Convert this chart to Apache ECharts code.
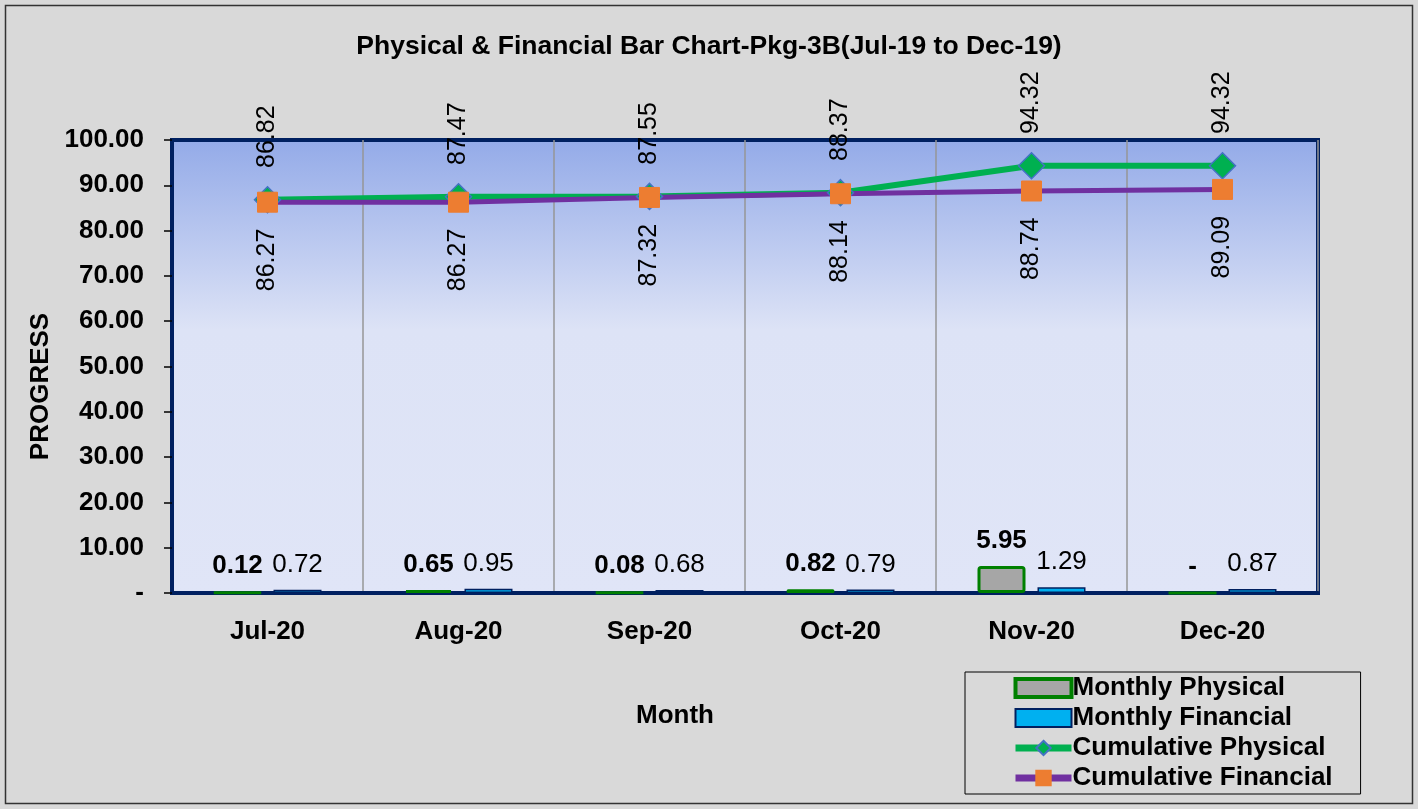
<!DOCTYPE html>
<html>
<head>
<meta charset="utf-8">
<script src="https://cdn.jsdelivr.net/npm/echarts@6/dist/echarts.min.js"></script>
<style>
  html, body { margin: 0; padding: 0; background: #d9d9d9; }
  #main { width: 1418px; height: 809px; }
</style>
</head>
<body>
<div id="main"></div>
<script>
  // chart data
  var months = ['Jul-20', 'Aug-20', 'Sep-20', 'Oct-20', 'Nov-20', 'Dec-20'];
  var monthlyPhysical = [0.12, 0.65, 0.08, 0.82, 5.95, 0];
  var monthlyFinancial = [0.72, 0.95, 0.68, 0.79, 1.29, 0.87];
  var cumulativePhysical = [86.82, 87.47, 87.55, 88.37, 94.32, 94.32];
  var cumulativeFinancial = [86.27, 86.27, 87.32, 88.14, 88.74, 89.09];

  var font = 'Liberation Sans, Arial, sans-serif';
  var fmt = function (v) {
    return v === 0 ? '-' : v.toFixed(2);
  };

  var chart = echarts.init(document.getElementById('main'));
  var option = {
    backgroundColor: '#d9d9d9',
    animation: false,
    textStyle: { fontFamily: font },
    title: {
      text: 'Physical & Financial Bar Chart-Pkg-3B(Jul-19 to Dec-19)',
      left: 'center',
      top: 28,
      textStyle: { fontFamily: font, fontSize: 26.5, fontWeight: 'bold', color: '#000' }
    },
    graphic: [{
      type: 'rect',
      silent: true,
      shape: { x: 5.5, y: 5.5, width: 1407, height: 798 },
      style: { fill: 'none', stroke: '#333', lineWidth: 1.5 }
    }],
    legend: {
      orient: 'vertical',
      left: 965,
      top: 672,
      padding: [3, 28, 3, 47],
      itemGap: 4,
      itemWidth: 56,
      itemHeight: 18,
      borderColor: '#000',
      borderWidth: 1,
      backgroundColor: '#d9d9d9',
      lineStyle: { width: 7 },
      textStyle: { fontFamily: font, fontSize: 26, fontWeight: 'bold', color: '#000', padding: [0, 0, 0, -4] },
      data: [
        { name: 'Monthly Physical', icon: 'rect', itemStyle: { borderWidth: 4 } },
        { name: 'Monthly Financial', icon: 'rect', itemStyle: { borderWidth: 2 } },
        { name: 'Cumulative Physical' },
        { name: 'Cumulative Financial' }
      ]
    },
    grid: {
      left: 172,
      right: 100,
      top: 140,
      bottom: 216,
      show: true,
      borderColor: '#002060',
      borderWidth: 4,
      backgroundColor: new echarts.graphic.LinearGradient(0, 0, 0, 1, [
        { offset: 0, color: '#93aae8' },
        { offset: 0.42, color: '#dde3f6' },
        { offset: 1, color: '#e0e5f7' }
      ])
    },
    xAxis: [
      {
        type: 'category',
        data: months,
        name: 'Month',
        nameLocation: 'middle',
        nameGap: 110,
        nameTextStyle: { fontFamily: font, fontSize: 26, fontWeight: 'bold', color: '#000', padding: [0, 140, 0, 0] },
        axisLine: { lineStyle: { color: '#002060', width: 4 } },
        axisTick: { length: 9, lineStyle: { color: '#000', width: 1.5 } },
        axisLabel: { margin: 26, fontFamily: font, fontSize: 26, fontWeight: 'bold', color: '#000' },
        splitLine: { show: true, lineStyle: { color: '#969696', width: 1.5 } }
      },
      {
        // short ticks at the middle of each month
        type: 'category',
        data: months,
        position: 'bottom',
        axisLine: { show: false },
        axisTick: { alignWithLabel: true, length: 6, lineStyle: { color: '#000', width: 1.5 } },
        axisLabel: { show: false },
        splitLine: { show: false }
      }
    ],
    yAxis: {
      type: 'value',
      min: 0,
      max: 100,
      interval: 10,
      name: 'PROGRESS',
      nameLocation: 'middle',
      nameGap: 118,
      nameTextStyle: { fontFamily: font, fontSize: 26, fontWeight: 'bold', color: '#000', padding: [0, 40, 0, 0] },
      axisLine: { show: true, lineStyle: { color: '#002060', width: 4 } },
      axisTick: { show: true, length: 8, lineStyle: { color: '#000', width: 1.5 } },
      axisLabel: {
        margin: 28,
        fontFamily: font,
        fontSize: 26,
        fontWeight: 'bold',
        color: '#000',
        formatter: fmt
      },
      splitLine: { show: false }
    },
    series: [
      {
        name: 'Monthly Physical',
        type: 'bar',
        barWidth: 48,
        barGap: '25%',
        data: monthlyPhysical,
        itemStyle: { color: '#a6a6a6', borderColor: '#008000', borderWidth: 3, borderRadius: 2 },
        label: {
          show: true,
          position: 'top',
          distance: 12,
          fontFamily: font,
          fontSize: 26,
          fontWeight: 'bold',
          color: '#000',
          formatter: function (p) { return fmt(p.value); }
        }
      },
      {
        name: 'Monthly Financial',
        type: 'bar',
        barWidth: 48,
        data: monthlyFinancial,
        itemStyle: { color: '#00b0f0', borderColor: '#002060', borderWidth: 1.5 },
        label: {
          show: true,
          position: 'top',
          distance: 12,
          fontFamily: font,
          fontSize: 26,
          color: '#000',
          formatter: function (p) { return fmt(p.value); }
        }
      },
      {
        name: 'Cumulative Physical',
        type: 'line',
        data: cumulativePhysical,
        symbol: 'diamond',
        symbolSize: 26,
        lineStyle: { color: '#00b050', width: 6 },
        itemStyle: { color: '#00b050', borderColor: '#4472c4', borderWidth: 1.5 },
        label: {
          show: true,
          position: 'top',
          distance: 18,
          rotate: 90,
          align: 'left',
          verticalAlign: 'middle',
          fontFamily: font,
          fontSize: 25,
          color: '#000',
          formatter: function (p) { return p.value.toFixed(2); }
        }
      },
      {
        name: 'Cumulative Financial',
        type: 'line',
        data: cumulativeFinancial,
        symbol: 'rect',
        symbolSize: 20,
        lineStyle: { color: '#7030a0', width: 5 },
        itemStyle: { color: '#ed7d31', borderColor: '#ed7d31', borderWidth: 1 },
        label: {
          show: true,
          position: 'bottom',
          distance: 16,
          rotate: 90,
          align: 'right',
          verticalAlign: 'middle',
          fontFamily: font,
          fontSize: 25,
          color: '#000',
          formatter: function (p) { return p.value.toFixed(2); }
        }
      }
    ]
  };
  chart.setOption(option);
</script>
</body>
</html>
